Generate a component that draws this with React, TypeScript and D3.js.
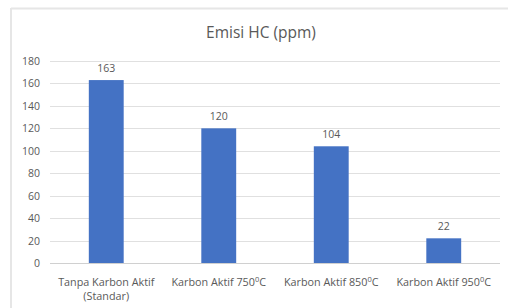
import React from "react";
import * as d3 from "d3";

const categories = ["Tanpa Karbon Aktif\n(Standar)", "Karbon Aktif 750⁰C", "Karbon Aktif 850⁰C", "Karbon Aktif 950⁰C"];
const values = [163, 120, 104, 22];
const yTicks = [0, 20, 40, 60, 80, 100, 120, 140, 160, 180];
const title = "Emisi HC (ppm)";

const W = 508, H = 308;
const FONT = "'Open Sans', 'Noto Sans', sans-serif";
const TXT = "#595959";

function renderLabel(line: string) {
  const parts = line.split("⁰");
  const out: React.ReactNode[] = [];
  parts.forEach((p, i) => {
    if (i > 0) {
      out.push(<tspan key={"s" + i} fontSize={7.5} dy={-4}>0</tspan>);
      out.push(<tspan key={"p" + i} dy={4}>{p}</tspan>);
    } else out.push(<tspan key={"p" + i}>{p}</tspan>);
  });
  return out;
}

export default function App() {
  const x = d3.scaleBand<string>().domain(categories).range([50, 500]).paddingInner(0.69).paddingOuter(0.345);
  const y = d3.scaleLinear().domain([0, 180]).range([263, 61]);
  return (
    <svg width={W} height={H} style={{ position: "absolute", left: 0, top: 0, display: "block" }} fontFamily={FONT}>
      <rect x={0} y={0} width={W} height={H} fill="#fff" />
      <line x1={11} x2={W} y1={8.5} y2={8.5} stroke="#e6e6e6" strokeWidth={2} />
      <line x1={11} x2={11} y1={8} y2={H} stroke="#e6e6e6" strokeWidth={2} />
      <text x={261} y={38} textAnchor="middle" fontSize={15.5} fill={TXT}>{title}</text>
      {yTicks.map((t) => (
        <g key={t}>
          {t > 0 && <line x1={50} x2={500} y1={Math.round(y(t)) + 0.5} y2={Math.round(y(t)) + 0.5} stroke="#e0e0e0" strokeWidth={1} />}
          <text x={40} y={y(t) + 4} textAnchor="end" fontSize={10.5} fill={TXT}>{t}</text>
        </g>
      ))}
      {categories.map((c, i) => (
        <g key={c}>
          <rect x={x(c)} y={y(values[i])} width={x.bandwidth()} height={y(0) - y(values[i])} fill="#4472C4" />
          <text x={(x(c) as number) + x.bandwidth() / 2} y={y(values[i]) - 8} textAnchor="middle" fontSize={10.5} fill={TXT}>{values[i]}</text>
          {c.split("\n").map((line, j) => (
            <text key={j} x={(x(c) as number) + x.bandwidth() / 2} y={285.5 + j * 14.5} textAnchor="middle" fontSize={10.8} fill={TXT}>{renderLabel(line)}</text>
          ))}
        </g>
      ))}
      <line x1={50} x2={500} y1={263.5} y2={263.5} stroke="#d0d0d0" strokeWidth={1} />
    </svg>
  );
}
